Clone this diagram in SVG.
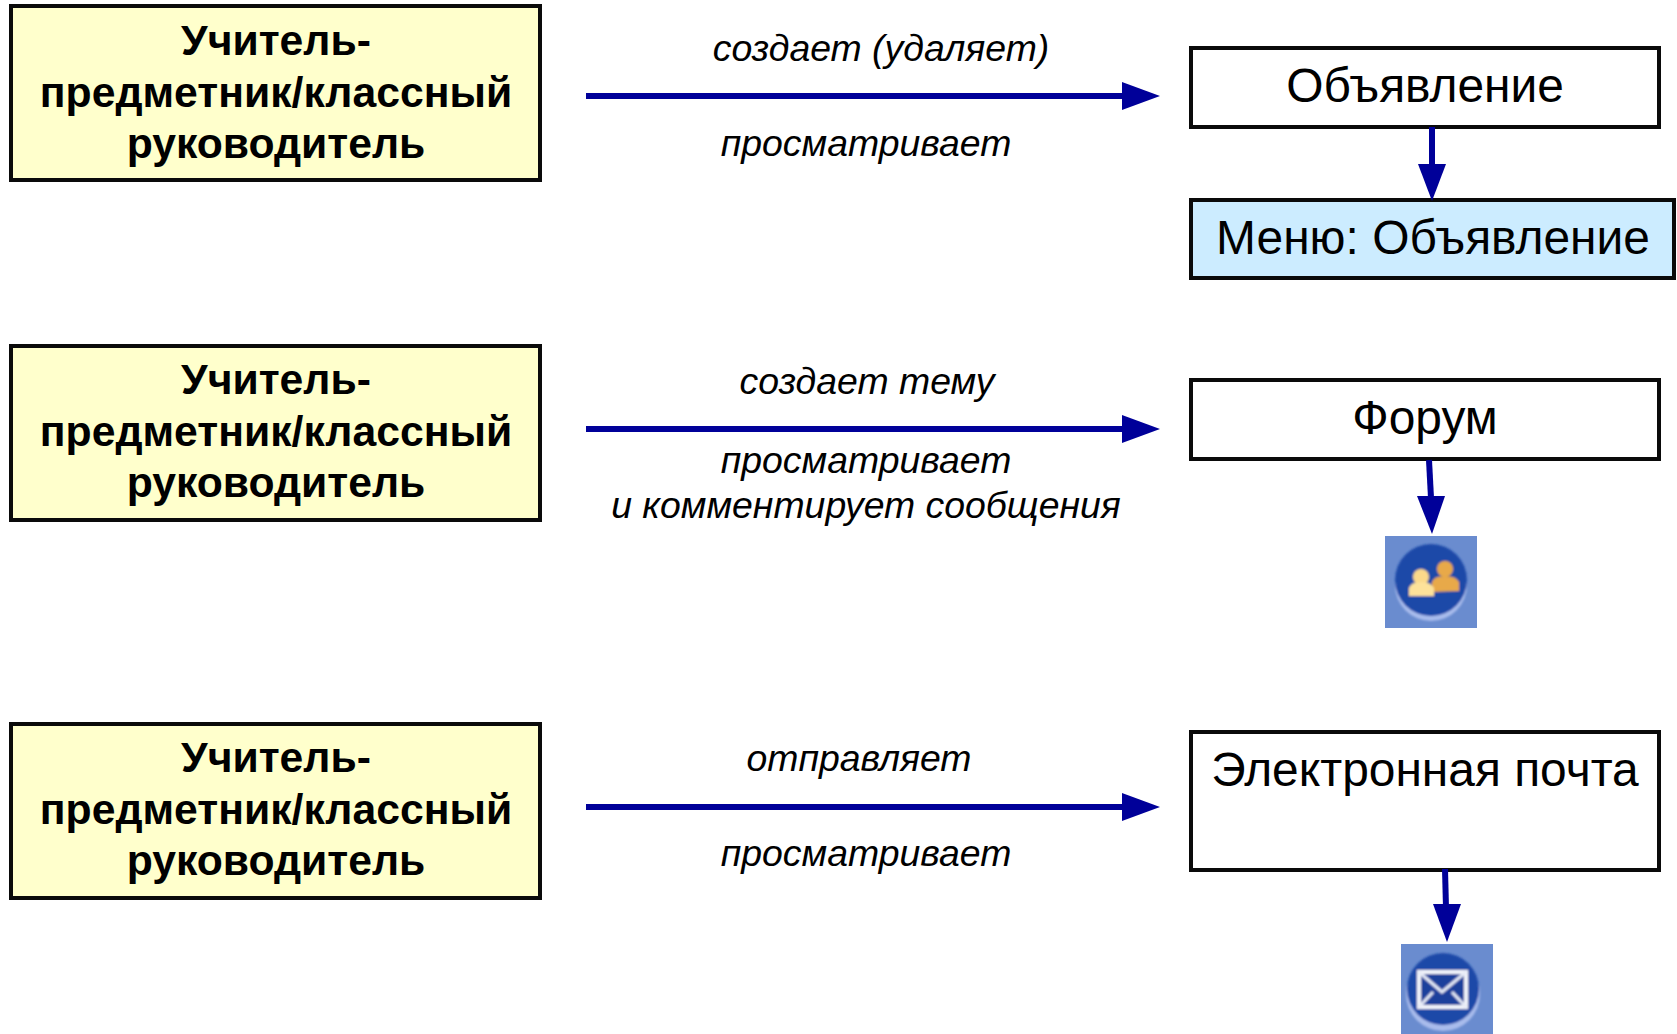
<svg xmlns="http://www.w3.org/2000/svg" width="1677" height="1034" viewBox="0 0 1677 1034">
<style>
.box{stroke:#0a0a0a;stroke-width:4}
.actor{fill:#ffffcc}
.plain{fill:#fff}
.menu{fill:#ccecff}
.t{font-family:"Liberation Sans",Arial,sans-serif;text-anchor:middle;fill:#000}
.b{font-size:42.7px;font-weight:bold}
.n{font-size:47.9px}
.i{font-size:37.4px;font-style:italic}
.c{stroke:#000099;stroke-width:6;fill:none}
.h{fill:#000099;stroke:none}
.iconbg{fill:#6a8ccf}
</style>
<defs>
<filter id="soft" x="-10%" y="-10%" width="120%" height="120%"><feGaussianBlur stdDeviation="1"/></filter>
<g id="actorText">
<text class="t b" x="276" y="55">Учитель-</text>
<text class="t b" x="276" y="107">предметник/классный</text>
<text class="t b" x="276" y="158">руководитель</text>
</g>
</defs>
<rect width="1677" height="1034" fill="#fff"/>
<g id="actor1"><rect class="box actor" x="11" y="6" width="529" height="174"/><use href="#actorText"/></g>
<g id="actor2"><rect class="box actor" x="11" y="346" width="529" height="174"/><use href="#actorText" y="339"/></g>
<g id="actor3"><rect class="box actor" x="11" y="724" width="529" height="174"/><use href="#actorText" y="717"/></g>
<g id="announcement"><rect class="box plain" x="1191" y="48" width="468" height="79"/><text class="t n" x="1425" y="102">Объявление</text></g>
<g id="menu"><rect class="box menu" x="1191" y="200" width="483" height="78"/><text class="t n" x="1433" y="254">Меню: Объявление</text></g>
<g id="forum"><rect class="box plain" x="1191" y="380" width="468" height="79"/><text class="t n" x="1425" y="434">Форум</text></g>
<g id="email"><rect class="box plain" x="1191" y="732" width="468" height="138"/><text class="t n" x="1425" y="786">Электронная почта</text></g>
<g id="forumIcon">
<rect class="iconbg" x="1385" y="536" width="92" height="92"/>
<g filter="url(#soft)">
<circle cx="1431" cy="585" r="36" fill="#a9bcec"/>
<circle cx="1431" cy="580" r="36" fill="#1f49a8"/>
<circle cx="1445" cy="569" r="8" fill="#e8a94a"/>
<path d="M1432 592v-10q2-6 13-6t14 6v9z" fill="#e8a94a"/>
<circle cx="1421" cy="577" r="8" fill="#fbd98a"/>
<path d="M1409 596v-8q2-6 12-6t13 6v8z" fill="#fde29a"/>
</g>
</g>
<g id="emailIcon">
<rect class="iconbg" x="1401" y="944" width="92" height="90"/>
<g filter="url(#soft)">
<circle cx="1443" cy="994" r="37" fill="#a9bcec"/>
<circle cx="1443" cy="989" r="36" fill="#1f49a8"/>
<rect x="1419" y="972" width="47" height="35" fill="#1c3f9c" stroke="#f2f4fb" stroke-width="4"/>
<path d="M1419 972l23 20 24-20M1419 1007l14-15M1466 1007l-14-15" fill="none" stroke="#e6eaf6" stroke-width="3"/>
</g>
</g>
<g id="connectors">
<line class="c" x1="586" y1="96" x2="1125" y2="96"/><path class="h" d="M1122 82l38 14-38 14z"/>
<line class="c" x1="586" y1="429" x2="1125" y2="429"/><path class="h" d="M1122 415l38 14-38 14z"/>
<line class="c" x1="586" y1="807" x2="1125" y2="807"/><path class="h" d="M1122 793l38 14-38 14z"/>
<line class="c" x1="1432" y1="127" x2="1432" y2="168"/><path class="h" d="M1418 164h28l-14 37z"/>
<line class="c" x1="1429" y1="460" x2="1431" y2="498"/><path class="h" d="M1417 496h28l-13 38z"/>
<line class="c" x1="1445" y1="869" x2="1446" y2="908"/><path class="h" d="M1433 904h28l-14 38z"/>
</g>
<g id="labels">
<text class="t i" x="881" y="61">создает (удаляет)</text>
<text class="t i" x="866" y="156">просматривает</text>
<text class="t i" x="867" y="394">создает тему</text>
<text class="t i" x="866" y="473">просматривает</text>
<text class="t i" x="866" y="518">и комментирует сообщения</text>
<text class="t i" x="859" y="771">отправляет</text>
<text class="t i" x="866" y="866">просматривает</text>
</g>
</svg>
